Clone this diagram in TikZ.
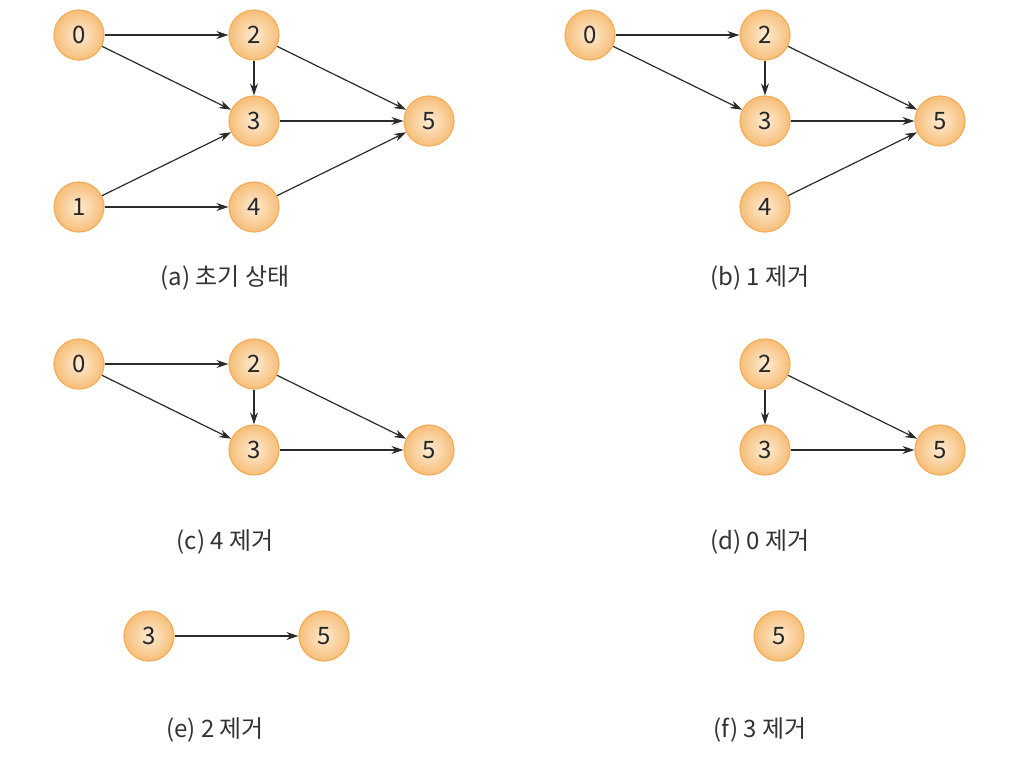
\documentclass[tikz,border=0pt]{standalone}
\usepackage{fontspec}
\setmainfont{Noto Sans CJK KR}
\usetikzlibrary{arrows.meta}
\definecolor{nodeedge}{HTML}{F2AE5C}
\definecolor{nodeout}{HTML}{F7BE78}
\definecolor{nodein}{HTML}{FDEBD3}
\definecolor{arrowc}{HTML}{2A2A2A}
\tikzset{
  vtx/.style={circle, minimum size=50pt, inner sep=0pt, draw=nodeedge, line width=1.2pt,
    inner color=nodein, outer color=nodeout, font=\fontsize{24}{24}\selectfont, text=black!85},
  arr/.style={draw=arrowc, line width=1.2pt, -{Stealth[length=12pt,width=8pt]}},
  captxt/.style={font=\fontsize{24}{24}\selectfont, text=black!80}
}
\begin{document}
\begin{tikzpicture}[x=1pt,y=-1pt]
\useasboundingbox (0,0) rectangle (1018,774);
% (a)
\node[vtx] (a0) at (79,35) {0};
\node[vtx] (a2) at (254,35) {2};
\node[vtx] (a3) at (254,121) {3};
\node[vtx] (a5) at (429,121) {5};
\node[vtx] (a1) at (79,207) {1};
\node[vtx] (a4) at (254,207) {4};
\draw[arr] (a0) -- (a2);
\draw[arr] (a0) -- (a3);
\draw[arr] (a2) -- (a3);
\draw[arr] (a2) -- (a5);
\draw[arr] (a3) -- (a5);
\draw[arr] (a1) -- (a3);
\draw[arr] (a1) -- (a4);
\draw[arr] (a4) -- (a5);
\node[captxt] (capa) at (225,278) {(a) 초기 상태};
% (b)
\node[vtx] (b0) at (590,35) {0};
\node[vtx] (b2) at (765,35) {2};
\node[vtx] (b3) at (765,121) {3};
\node[vtx] (b5) at (940,121) {5};
\node[vtx] (b4) at (765,207) {4};
\draw[arr] (b0) -- (b2);
\draw[arr] (b0) -- (b3);
\draw[arr] (b2) -- (b3);
\draw[arr] (b2) -- (b5);
\draw[arr] (b3) -- (b5);
\draw[arr] (b4) -- (b5);
\node[captxt] (capb) at (760,278) {(b) 1 제거};
% (c)
\node[vtx] (c0) at (79,364) {0};
\node[vtx] (c2) at (254,364) {2};
\node[vtx] (c3) at (254,450) {3};
\node[vtx] (c5) at (429,450) {5};
\draw[arr] (c0) -- (c2);
\draw[arr] (c0) -- (c3);
\draw[arr] (c2) -- (c3);
\draw[arr] (c2) -- (c5);
\draw[arr] (c3) -- (c5);
\node[captxt] (capc) at (225,542) {(c) 4 제거};
% (d)
\node[vtx] (d2) at (765,364) {2};
\node[vtx] (d3) at (765,450) {3};
\node[vtx] (d5) at (940,450) {5};
\draw[arr] (d2) -- (d3);
\draw[arr] (d2) -- (d5);
\draw[arr] (d3) -- (d5);
\node[captxt] (capd) at (760,542) {(d) 0 제거};
% (e)
\node[vtx] (e3) at (149,636) {3};
\node[vtx] (e5) at (324,636) {5};
\draw[arr] (e3) -- (e5);
\node[captxt] (cape) at (215,730) {(e) 2 제거};
% (f)
\node[vtx] (f5) at (779,636) {5};
\node[captxt] (capf) at (760,730) {(f) 3 제거};
\end{tikzpicture}
\end{document}
